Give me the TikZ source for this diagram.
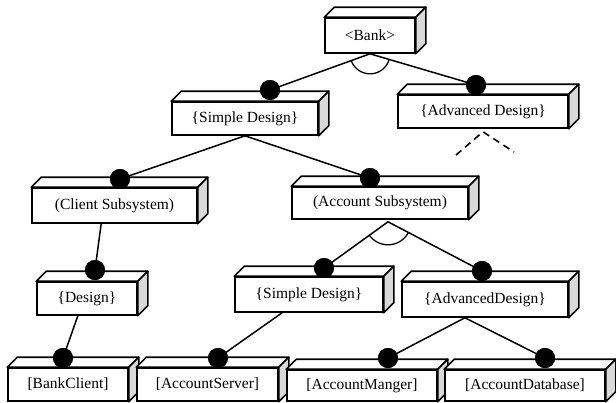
\documentclass[tikz,border=0pt]{standalone}
\usepackage{fontspec}
\setmainfont{Liberation Serif}
\usetikzlibrary{calc}
\newcommand\cubebox[6]{%
  \pgfmathsetmacro\cbw{#4-#2}\pgfmathsetmacro\cbh{#5-#3}%
  \pgfmathsetmacro\cbx{(#2+#4)/2}\pgfmathsetmacro\cby{(#3+#5)/2}%
  \node[box,minimum width=\cbw pt,minimum height=\cbh pt] (#1) at (\cbx,\cby) {#6};
  \draw[face] (#1.north west) -- ++(10,-10) -- ($(#1.north east)+(10,-10)$) -- (#1.north east) -- cycle;
  \draw[side] (#1.north east) -- ++(10,-10) -- ($(#1.south east)+(10,-10)$) -- (#1.south east) -- cycle;
}
\begin{document}
\begin{tikzpicture}[x=1pt,y=-1pt,
  box/.style={draw,line width=1.6pt,fill=white,inner sep=0pt,font=\fontsize{15.5}{17}\selectfont},
  face/.style={line width=1.6pt,fill=white,line join=round},
  side/.style={line width=1.6pt,fill=gray!30,line join=round},
  dot/.style={circle,fill=black,inner sep=0pt,minimum size=20pt},
  link/.style={line width=1.5pt},
  andarc/.style={line width=1.3pt},
  future/.style={line width=1.6pt,dash pattern=on 7pt off 5pt}]
\useasboundingbox (0,0) rectangle (616,402);
\clip (0,0) rectangle (616,402);
% boxes
\cubebox{bank}{325}{18}{415}{53}{\textless Bank\textgreater}
\cubebox{adv}{398}{95}{568}{128}{\{Advanced Design\}}
\cubebox{sd}{172}{102}{318}{135}{\{Simple Design\}}
\cubebox{cs}{32}{188}{197}{223}{(Client Subsystem)}
\cubebox{as}{292}{187}{468}{219}{(Account Subsystem)}
\cubebox{des}{37}{282}{137}{315}{\{Design\}}
\cubebox{sdb}{235}{277}{383}{312}{\{Simple Design\}}
\cubebox{advb}{402}{282}{568}{317}{\{AdvancedDesign\}}
\cubebox{bc}{8}{368}{128}{401}{[BankClient]}
\cubebox{asv}{137}{368}{278}{401}{[AccountServer]}
\cubebox{am}{287}{370}{437}{401}{[AccountManger]}
\cubebox{ad}{445}{370}{605}{401}{[AccountDatabase]}
% dot positions
\node[dot] (sdD) at (270,90) {};
\node[dot] (advD) at (476,85) {};
\node[dot] (csD) at (120,179) {};
\node[dot] (asD) at (370,178) {};
\node[dot] (desD) at (95,270) {};
\node[dot] (sdbD) at (324,268) {};
\node[dot] (advbD) at (482,271) {};
\node[dot] (bcD) at (63,358) {};
\node[dot] (asvD) at (218,358) {};
\node[dot] (amD) at (388,358) {};
\node[dot] (adD) at (545,358) {};
% connectors
\coordinate (asb) at ($(as.south)+(8,2)$);
\draw[link] (bank.south) -- (sdD.center);
\draw[link] (bank.south) -- (advD.center);
\draw[link] (sd.south) -- (csD.center);
\draw[link] (sd.south) -- (asD.center);
\draw[link] ($(cs.south west)!0.42!(cs.south east)$) -- (desD.center);
\draw[link] ($(des.south west)!0.41!(des.south east)$) -- (bcD.center);
\draw[link] (asb) -- (sdbD.center);
\draw[link] (asb) -- (advbD.center);
\draw[link] ($(sdb.south west)!0.32!(sdb.south east)$) -- (asvD.center);
\draw[link] ($(advb.south west)!0.38!(advb.south east)$) -- (amD.center);
\draw[link] ($(advb.south west)!0.38!(advb.south east)$) -- (adD.center);
% dots on top of the connectors
\foreach \d in {sdD,advD,csD,asD,desD,sdbD,advbD,bcD,asvD,amD,adD}
  \fill (\d) circle (10);
% and-arcs
\draw[andarc,shift={(bank.south)}] plot[domain=17:160,samples=40] ({20*cos(\x)},{20*sin(\x)});
\draw[andarc,shift={(asb)}] plot[domain=29:143,samples=40] ({23*cos(\x)},{23*sin(\x)});
% future refinement of advanced design
\coordinate (fl) at (456,155);
\coordinate (fr) at (514,152);
\draw[future] (fl) -- ($(adv.south)+(0,3)$) -- (fr);
\end{tikzpicture}
\end{document}
